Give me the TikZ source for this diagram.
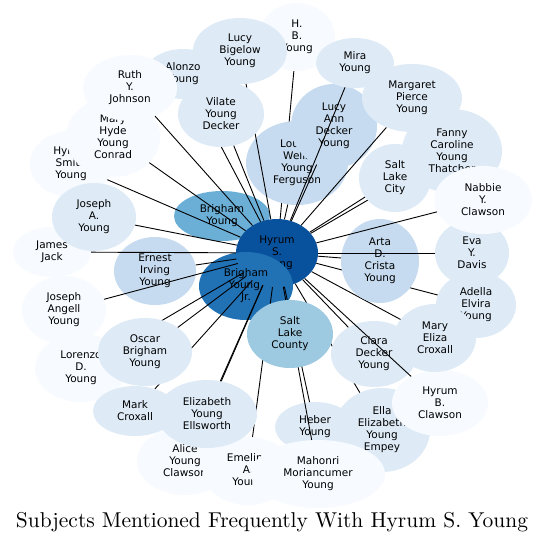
\documentclass[tikz,border=0pt]{standalone}
\usepackage{fontspec}
\usetikzlibrary{shapes.geometric}
\newfontfamily\dvsans{DejaVu Sans}
\newcommand\nodefont{\dvsans\fontsize{10.5}{12}\selectfont}
\definecolor{cA}{HTML}{08519C}
\definecolor{cB}{HTML}{2171B5}
\definecolor{cC}{HTML}{6BAED6}
\definecolor{cD}{HTML}{9ECAE1}
\definecolor{cE}{HTML}{C6DBEF}
\definecolor{cF}{HTML}{DEEBF7}
\definecolor{cG}{HTML}{F7FBFF}
\tikzset{
  nd/.style={ellipse, inner sep=0pt, font=\nodefont, align=center, text=black, draw=none},
  edge/.style={draw=black, line width=0.9pt}
}
\newcommand\mynode[7]{\node[nd, fill=#6, minimum width=#4*2pt, minimum height=#5*2pt] (#1) at (#2,#3) {#7};}
\newcommand\myedge[1]{\draw[edge] (hy) -- (#1);}
\begin{document}
\begin{tikzpicture}[x=1pt,y=-1pt]
\useasboundingbox (0,0) rectangle (545,544);
\fill[white] (0,0) rectangle (545,544);
% central nodes
\mynode{by}{222}{216}{48}{25}{cC}{Brigham\\Young}
\mynode{hy}{277}{253}{41}{34}{cA}{Hyrum\\S.\\Young}
\mynode{byj}{246}{286}{47}{34}{cB}{Brigham\\Young,\\Jr.}
% upper ring
\mynode{hb}{297}{37}{38}{34}{cG}{H.\\B.\\Young}\myedge{hb}
\mynode{lw}{297}{163}{51}{42}{cE}{Louisa\\Wells\\Young\\Ferguson}\myedge{lw}
\mynode{lb}{240}{51}{47}{33}{cF}{Lucy\\Bigelow\\Young}\myedge{lb}
\mynode{al}{183}{74}{38}{25}{cF}{Alonzo\\Young}\myedge{al}
\mynode{vi}{221}{114}{43}{33}{cF}{Vilate\\Young\\Decker}\myedge{vi}
\mynode{la}{334}{126}{43}{42}{cE}{Lucy\\Ann\\Decker\\Young}\myedge{la}
\mynode{mi}{355}{63}{39}{25}{cF}{Mira\\Young}\myedge{mi}
\mynode{mp}{412}{98}{50}{34}{cF}{Margaret\\Pierce\\Young}\myedge{mp}
\mynode{fc}{452}{151}{50}{42}{cF}{Fanny\\Caroline\\Young\\Thatcher}\myedge{fc}
\mynode{sc}{395}{178}{36}{34}{cF}{Salt\\Lake\\City}\myedge{sc}
% left side
\mynode{hs}{71}{164}{41}{33}{cG}{Hyrum\\Smith\\Young}\myedge{hs}
\mynode{mh}{113}{137}{47}{40}{cG}{Mary\\Hyde\\Young\\Conrad}\myedge{mh}
\mynode{ru}{130}{88}{47}{33}{cG}{Ruth\\Y.\\Johnson}\myedge{ru}
\mynode{er}{155}{271}{41}{34}{cE}{Ernest\\Irving\\Young}\myedge{er}
\mynode{jj}{52}{252}{39}{25}{cG}{James\\Jack}\myedge{jj}
\mynode{ja}{94}{217}{42}{34}{cF}{Joseph\\A.\\Young}\myedge{ja}
\mynode{jn}{64}{310}{42}{34}{cG}{Joseph\\Angell\\Young}\myedge{jn}
% lower left
\mynode{ac}{185}{461}{48}{34}{cG}{Alice\\Young\\Clawson}\myedge{ac}
\mynode{em}{248}{471}{45}{34}{cG}{Emeline\\A.\\Young}\myedge{em}
\mynode{lo}{81}{368}{46}{34}{cG}{Lorenzo\\D.\\Young}\myedge{lo}
\mynode{mc}{135}{411}{42}{25}{cF}{Mark\\Croxall}\myedge{mc}
\mynode{ob}{145}{352}{47}{34}{cF}{Oscar\\Brigham\\Young}\myedge{ob}
\mynode{ee}{207}{414}{50}{34}{cF}{Elizabeth\\Young\\Ellsworth}\myedge{ee}
% lower right
\mynode{he}{315}{427}{40}{25}{cF}{Heber\\Young}\myedge{he}
\mynode{el}{382}{430}{48}{42}{cF}{Ella\\Elizabeth\\Young\\Empey}\myedge{el}
\mynode{mm}{318}{474}{67}{34}{cG}{Mahonri\\Moriancumer\\Young}\myedge{mm}
\mynode{cd}{374}{354}{43}{33}{cF}{Clara\\Decker\\Young}\myedge{cd}
\mynode{hc}{440}{403}{48}{33}{cG}{Hyrum\\B.\\Clawson}\myedge{hc}
\mynode{ad}{476}{305}{40}{33}{cF}{Adella\\Elvira\\Young}\myedge{ad}
\mynode{me}{435}{338}{41}{34}{cF}{Mary\\Eliza\\Croxall}\myedge{me}
\mynode{ar}{380}{261}{39}{42}{cE}{Arta\\D.\\Crista\\Young}\myedge{ar}
\mynode{ev}{472}{253}{37}{33}{cF}{Eva\\Y.\\Davis}\myedge{ev}
\mynode{nb}{483}{200}{49}{34}{cG}{Nabbie\\Y.\\Clawson}\myedge{nb}
% Salt Lake County on top
\mynode{slc}{290}{334}{43}{34}{cD}{Salt\\Lake\\County}
% title
\node (title) at (272,522) {\resizebox{512pt}{!}{Subjects Mentioned Frequently With Hyrum S. Young}};
\end{tikzpicture}
\end{document}
